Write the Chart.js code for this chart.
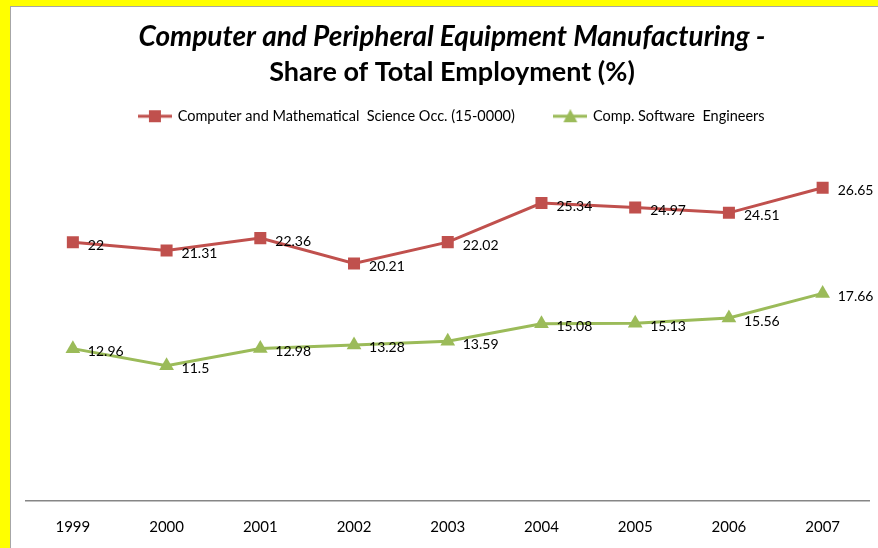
<!DOCTYPE html>
<html>
<head>
<meta charset="utf-8">
<title>Computer and Peripheral Equipment Manufacturing</title>
<script src="https://cdn.jsdelivr.net/npm/chart.js@4.4.0/dist/chart.umd.min.js"></script>
<style>
    html, body { margin: 0; padding: 0; background: #ffff00; overflow: hidden; }
    #frame {
        position: absolute; left: 10px; top: 6px;
        width: 867px; height: 541px;
        background: #ffffff;
        border-left: 1px solid #a6a6a6;
        border-top: 1px solid #a6a6a6;
    }
    #chart-employment { display: block; }
</style>
</head>
<body>
<div id="frame"><canvas id="chart-employment" width="867" height="541"></canvas></div>
<script>
var years = ["1999", "2000", "2001", "2002", "2003", "2004", "2005", "2006", "2007"];
var compMathShare = [22, 21.31, 22.36, 20.21, 22.02, 25.34, 24.97, 24.51, 26.65];
var softwareEngShare = [12.96, 11.5, 12.98, 13.28, 13.59, 15.08, 15.13, 15.56, 17.66];

var RED = "#c0504d";
var GREEN = "#9bbb59";
var FONT = "Lato";

// small canvas with a line and marker, used as legend symbol
function legendSymbol(color, shape) {
    var c = document.createElement("canvas");
    c.width = 34;
    c.height = 14;
    var g = c.getContext("2d");
    g.strokeStyle = color;
    g.lineWidth = 3;
    g.beginPath();
    g.moveTo(0, 7);
    g.lineTo(34, 7);
    g.stroke();
    g.fillStyle = color;
    if (shape == "rect") {
        g.fillRect(11, 1, 12, 12);
    } else {
        g.beginPath();
        g.moveTo(17, 0);
        g.lineTo(24, 13);
        g.lineTo(10, 13);
        g.closePath();
        g.fill();
    }
    return c;
}

// value labels to the right of every point
var pointLabels = {
    id: "pointLabels",
    afterDatasetsDraw: function (chart) {
        var ctx = chart.ctx;
        ctx.save();
        ctx.font = "14px " + FONT;
        ctx.fillStyle = "#000";
        ctx.textBaseline = "middle";
        ctx.textAlign = "left";
        chart.data.datasets.forEach(function (ds, i) {
            chart.getDatasetMeta(i).data.forEach(function (pt, j) {
                ctx.fillText(String(ds.data[j]), pt.x + 15, pt.y + 3);
            });
        });
        ctx.restore();
    }
};

var ctx = document.getElementById("chart-employment");
var myChart = new Chart(ctx, {
    type: "line",
    data: {
        labels: years,
        datasets: [{
            label: "Computer and Mathematical  Science Occ. (15-0000)",
            data: compMathShare,
            borderColor: RED,
            backgroundColor: RED,
            borderWidth: 3,
            pointStyle: "rect",
            pointRadius: 8.5,
            pointBorderWidth: 0,
            tension: 0
        }, {
            label: "Comp. Software  Engineers",
            data: softwareEngShare,
            borderColor: GREEN,
            backgroundColor: GREEN,
            borderWidth: 3,
            pointStyle: "triangle",
            pointRadius: 8.5,
            pointBorderWidth: 0,
            tension: 0
        }]
    },
    options: {
        responsive: false,
        animation: false,
        layout: {
            padding: { left: 15, right: 0, top: 0, bottom: -5 }
        },
        plugins: {
            title: {
                display: true,
                text: "Computer and Peripheral Equipment Manufacturing -",
                color: "#000",
                font: { family: FONT, size: 28, weight: "bold", style: "italic" },
                padding: { top: 13, bottom: 0 }
            },
            subtitle: {
                display: true,
                text: "Share of Total Employment (%)",
                color: "#000",
                font: { family: FONT, size: 27, weight: "bold" },
                padding: { top: 2, bottom: -19 }
            },
            legend: {
                position: "top",
                labels: {
                    usePointStyle: true,
                    pointStyleWidth: 31,
                    padding: 40,
                    color: "#000",
                    font: { family: FONT, size: 14.5 },
                    generateLabels: function (chart) {
                        return chart.data.datasets.map(function (ds, i) {
                            return {
                                text: ds.label,
                                datasetIndex: i,
                                fontColor: "#000",
                                pointStyle: legendSymbol(ds.borderColor, ds.pointStyle),
                                lineWidth: 0,
                                hidden: false
                            };
                        });
                    }
                }
            },
            tooltip: { enabled: false }
        },
        scales: {
            x: {
                offset: true,
                grid: { display: false, drawTicks: false },
                border: { color: "#868686", width: 1.5 },
                ticks: { color: "#000", font: { family: FONT, size: 15 }, padding: 17 }
            },
            y: {
                display: false,
                min: 0,
                max: 31.26
            }
        }
    },
    plugins: [pointLabels]
});
</script>
</body>
</html>
